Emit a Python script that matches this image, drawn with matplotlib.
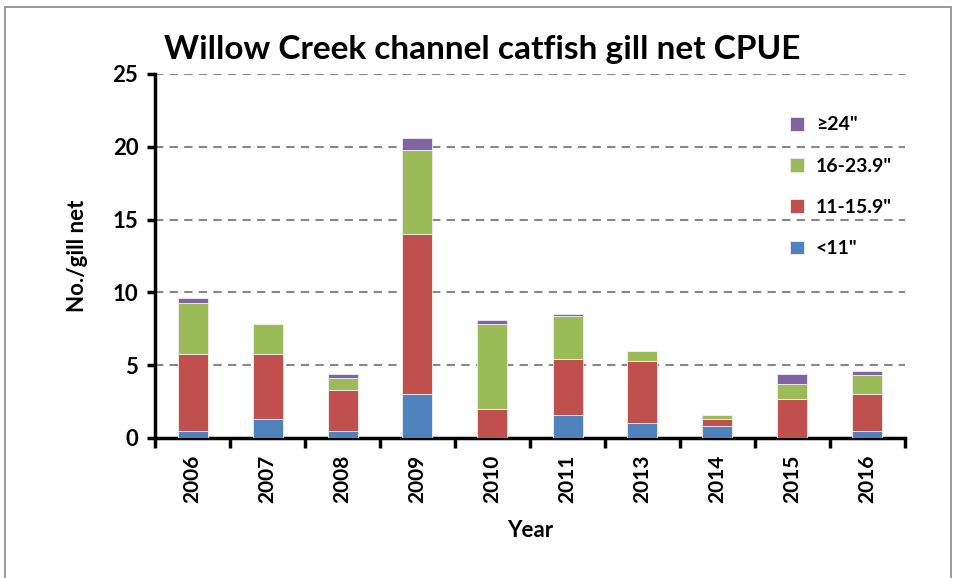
import matplotlib.pyplot as plt
import numpy as np
from matplotlib.patches import Rectangle

# data (No./gill net per size class)
years = ["2006", "2007", "2008", "2009", "2010", "2011", "2013", "2014", "2015", "2016"]
under_11 = [0.5, 1.3, 0.5, 3.0, 0.0, 1.6, 1.0, 0.8, 0.0, 0.5]
from_11_to_16 = [5.3, 4.5, 2.8, 11.0, 2.0, 3.8, 4.3, 0.5, 2.7, 2.5]
from_16_to_24 = [3.5, 2.0, 0.8, 5.8, 5.8, 3.0, 0.7, 0.3, 1.0, 1.3]
over_24 = [0.3, 0.0, 0.3, 0.8, 0.3, 0.1, 0.0, 0.0, 0.7, 0.3]

labels = ['<11"', '11-15.9"', '16-23.9"', '\u226524"']
colors = ["#4F81BD", "#C0504D", "#9BBB59", "#8064A2"]

plt.rcParams['font.family'] = ['Lato', 'DejaVu Sans']
plt.rcParams['font.weight'] = 'bold'

fig = plt.figure(figsize=(9.56, 5.78), dpi=100)
ax = fig.add_axes([155 / 956, 1 - 438 / 578, 750 / 956, 364 / 578])

# outer chart border
fig.patches.append(Rectangle((5 / 956, -0.01), 946 / 956, 1 - 7 / 578 + 0.01,
                             transform=fig.transFigure, fill=False,
                             edgecolor="#888888", linewidth=1.2))

x = np.arange(len(years))
series = [under_11, from_11_to_16, from_16_to_24, over_24]
bottom = np.zeros(len(years))
handles = []
for vals, lab, col in zip(series, labels, colors):
    b = ax.bar(x, vals, width=0.4, bottom=bottom, color=col, label=lab,
               edgecolor="#f0f0f0", linewidth=0.6, zorder=3)
    handles.append(b)
    bottom += np.array(vals)

ax.set_xlim(-0.5, len(years) - 0.5)
ax.set_ylim(0, 25)
ax.set_yticks(range(0, 26, 5))
ax.yaxis.grid(True, linestyle=(0, (4, 3)), color="#888888", linewidth=1.5, zorder=0)
ax.set_axisbelow(True)

# year labels centred, tick marks on category boundaries
ax.set_xticks(x)
ax.set_xticklabels(years, rotation=90, fontsize=15, fontweight='bold')
ax.tick_params(axis='x', which='major', length=0, pad=12)
ax.set_xticks(np.arange(-0.5, len(years)), minor=True)
ax.tick_params(axis='x', which='minor', length=7, width=2.5, direction='out')
ax.tick_params(axis='y', length=6, width=2.5, labelsize=16, pad=6)
for t in ax.get_yticklabels():
    t.set_fontweight('bold')

for s in ['top', 'right']:
    ax.spines[s].set_visible(False)
for s in ['left', 'bottom']:
    ax.spines[s].set_linewidth(2.5)

ax.set_ylabel("No./gill net", fontsize=16, fontweight='bold', labelpad=18)
ax.set_xlabel("Year", fontsize=16, fontweight='bold', labelpad=12)
fig.text(482 / 956, 1 - 50 / 578, "Willow Creek channel catfish gill net CPUE",
         ha='center', va='center', fontsize=24, fontweight='bold')

leg = ax.legend(handles[::-1], labels[::-1], loc='upper left',
                bbox_to_anchor=(618 / 750, 1 - 25 / 364), frameon=False,
                fontsize=14, labelspacing=1.25, handlelength=0.7,
                handleheight=0.7, handletextpad=0.6)
for t in leg.get_texts():
    t.set_fontweight('bold')

fig.savefig("out.png", dpi=100)
